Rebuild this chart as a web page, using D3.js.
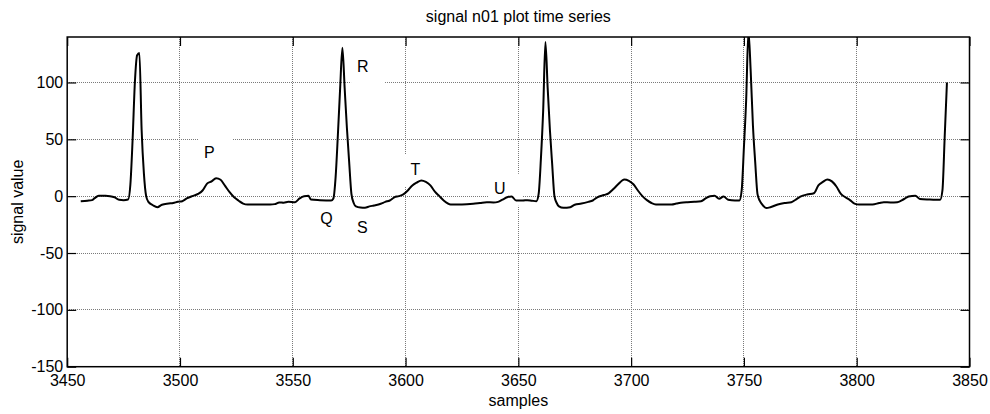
<!DOCTYPE html>
<html>
<head>
<meta charset="utf-8">
<script src="https://cdn.jsdelivr.net/npm/d3@7"></script>
<style>
    body { margin: 0; background: #fff; }
    #chart-area { width: 990px; height: 414px; }
    text { font-family: Arial, "Liberation Sans", sans-serif; }
</style>
</head>
<body>
<div id="chart-area"></div>
<script>

// sample index (x) and signal value (y)
let samples = [
    3456, 3459, 3461, 3462, 3464, 3467, 3469, 3471, 3473, 3475, 3477, 3478, 3479, 3480, 3481, 3482, 3483, 3484, 3485,
    3486, 3488, 3490, 3492, 3495, 3497, 3499, 3501, 3503, 3505, 3508, 3510, 3512, 3514, 3516, 3518, 3520, 3522, 3524,
    3526, 3528, 3530, 3535, 3540, 3542, 3544, 3546, 3548, 3551, 3553, 3555, 3557, 3558, 3562, 3567, 3568, 3569, 3570,
    3571, 3572, 3573, 3574, 3575, 3576, 3577, 3578, 3580, 3582, 3584, 3586, 3589, 3591, 3593, 3595, 3597, 3599, 3601,
    3603, 3605, 3607, 3609, 3611, 3613, 3615, 3617, 3620, 3625, 3630, 3633, 3636, 3639, 3641, 3643, 3645, 3647, 3649,
    3652, 3654, 3656, 3658, 3659, 3660, 3661, 3662, 3663, 3664, 3665, 3666, 3667, 3668, 3670, 3673, 3675, 3678, 3681,
    3683, 3685, 3688, 3690, 3692, 3694, 3697, 3699, 3701, 3703, 3705, 3707, 3709, 3711, 3715, 3718, 3720, 3722, 3725,
    3728, 3731, 3733, 3735, 3737, 3739, 3741, 3743, 3746, 3748, 3749, 3750, 3751, 3752, 3753, 3754, 3755, 3756, 3757,
    3758, 3760, 3762, 3765, 3768, 3771, 3773, 3775, 3778, 3781, 3783, 3785, 3787, 3789, 3791, 3793, 3795, 3797, 3799,
    3801, 3805, 3807, 3810, 3812, 3815, 3818, 3821, 3823, 3826, 3828, 3832, 3835, 3837, 3838, 3839, 3840
];

let values = [
    -4.5, -4, -3.5, -2, 0.3, 0.3, 0, -1, -3.2, -3.5, -3, 10, 50, 100, 124, 126, 58, 20, 0,
    -5, -8, -9.7, -7.5, -6.5, -6, -5, -4.4, -2, -0.3, 2, 5, 11, 13, 15.8, 14.4, 9, 3.5, -1,
    -4, -6.5, -7.3, -7.3, -7.3, -7, -5.5, -5.8, -5, -5.3, -2, 0, 0.3, -3, -3.5, -3.8, -2, 17, 54,
    95, 130.5, 95, 60, 30, 2, -6, -9, -10, -10.2, -9, -8.2, -6.7, -5, -3.8, -1, 0, 1.5, 5,
    9.4, 12, 13.8, 12.5, 9.5, 4, 0, -4, -7.3, -7.3, -6.7, -6, -5.3, -5.5, -5, -3, -1, -0.3, -3.8,
    -3.8, -3.5, -4, -4.4, 2, 33, 75, 135.5, 95, 58, 28, 0, -6, -9, -10.2, -9.7, -7.5, -6.5, -5,
    -3.8, -1, 1, 2.5, 6, 10, 14.7, 13.5, 10.5, 5, 0, -3.5, -6, -7.3, -7.3, -7.3, -6.5, -5.8, -5.3,
    -5, -4.4, -2, 0, 0.3, -2.3, -0.3, -3.2, -3.8, -3.8, 5, 43, 85, 145, 110, 62, 30, 2, -4,
    -7, -10.5, -9.5, -7.3, -6, -5.3, -3, -0.5, 1.5, 2.6, 9.4, 12.5, 14.7, 13, 8.5, 2, -1, -3.5, -6.5,
    -7.3, -7.3, -7.3, -6, -5.3, -5.5, -5.3, -2.5, -0.3, 0.3, -2.5, -3, -3.2, -3.2, 5, 52, 100
];

// wave annotations: letter and where it sits (sample, value)
let waveLabels = ["P", "Q", "R", "S", "T", "U"];
let labelSamples = [3510.7, 3562.2, 3578.5, 3578.5, 3602.2, 3639.2];
let labelValues = [34, -24.5, 109, -32.2, 19, 2.1];

let xTicks = [3450, 3500, 3550, 3600, 3650, 3700, 3750, 3800, 3850];
let yTicks = [-150, -100, -50, 0, 50, 100];

class SignalPlot {

    constructor(parentElement) {
        this.parentElement = parentElement;
        this.initVis();
    }

    initVis() {
        let vis = this;

        vis.margin = { top: 37, right: 20.5, bottom: 47.3, left: 67.2 };
        vis.width = 990 - vis.margin.left - vis.margin.right;
        vis.height = 414 - vis.margin.top - vis.margin.bottom;

        vis.root = d3.select("#" + vis.parentElement).append("svg")
            .attr("width", 990)
            .attr("height", 414);

        vis.svg = vis.root.append("g")
            .attr("transform", `translate(${vis.margin.left}, ${vis.margin.top})`);

        vis.x = d3.scaleLinear().domain([3450, 3850]).range([0, vis.width]);
        vis.y = d3.scaleLinear().domain([-150, 140]).range([vis.height, 0]);

        // clip so the tallest R peak gets cut at the top edge
        vis.root.append("defs").append("clipPath")
            .attr("id", "plot-clip")
            .append("rect")
            .attr("width", vis.width)
            .attr("height", vis.height);

        // grid
        vis.svg.append("g")
            .attr("class", "grid")
            .selectAll("line.vgrid")
            .data(xTicks.slice(1, -1))
            .enter().append("line")
            .attr("x1", d => vis.x(d)).attr("x2", d => vis.x(d))
            .attr("y1", 0).attr("y2", vis.height);

        vis.svg.select(".grid")
            .selectAll("line.hgrid")
            .data(yTicks.slice(1))
            .enter().append("line")
            .attr("x1", 0).attr("x2", vis.width)
            .attr("y1", d => vis.y(d)).attr("y2", d => vis.y(d));

        vis.svg.selectAll(".grid line")
            .attr("stroke", "#7a7a7a")
            .attr("stroke-width", 1)
            .attr("stroke-dasharray", "1,1")
            .attr("shape-rendering", "crispEdges");

        vis.labelData = waveLabels.map((l, i) => ({ label: l, s: labelSamples[i], v: labelValues[i] }));

        // white boxes behind the annotations (they hide the grid there)
        vis.svg.selectAll(".label-bg")
            .data(vis.labelData)
            .enter().append("rect")
            .attr("class", "label-bg")
            .attr("x", d => vis.x(d.s) - 6)
            .attr("y", d => vis.y(d.v) - 20)
            .attr("width", 34)
            .attr("height", 32)
            .attr("fill", "#fff");

        // signal
        vis.line = d3.line()
            .x(d => vis.x(d[0]))
            .y(d => vis.y(d[1]))
            .curve(d3.curveMonotoneX);

        vis.svg.append("path")
            .datum(samples.map((s, i) => [s, values[i]]))
            .attr("clip-path", "url(#plot-clip)")
            .attr("fill", "none")
            .attr("stroke", "#000")
            .attr("stroke-width", 2)
            .attr("stroke-linejoin", "round")
            .attr("d", vis.line);

        vis.svg.selectAll(".wave-label")
            .data(vis.labelData)
            .enter().append("text")
            .attr("class", "wave-label")
            .attr("x", d => vis.x(d.s))
            .attr("y", d => vis.y(d.v))
            .attr("font-size", "16px")
            .text(d => d.label);

        // axes, ticks point inward on all four sides
        let tick = 9;
        let plain = d => String(d).replace("\u2212", "-");
        vis.xAxis = d3.axisBottom(vis.x).tickValues(xTicks).tickFormat(plain)
            .tickSizeInner(-tick).tickSizeOuter(0).tickPadding(8);
        vis.yAxis = d3.axisLeft(vis.y).tickValues(yTicks).tickFormat(plain)
            .tickSizeInner(-tick).tickSizeOuter(0).tickPadding(4);

        vis.svg.append("g")
            .attr("class", "axis")
            .attr("transform", `translate(0, ${vis.height})`)
            .call(vis.xAxis);

        vis.svg.append("g")
            .attr("class", "axis")
            .call(vis.yAxis);

        vis.svg.append("g")
            .attr("class", "axis no-text")
            .call(d3.axisTop(vis.x).tickValues(xTicks).tickSizeInner(-tick).tickSizeOuter(0));

        vis.svg.append("g")
            .attr("class", "axis no-text")
            .attr("transform", `translate(${vis.width}, 0)`)
            .call(d3.axisRight(vis.y).tickValues(yTicks).tickSizeInner(-tick).tickSizeOuter(0));

        vis.svg.selectAll(".no-text text").remove();
        vis.svg.selectAll(".axis .domain").remove();
        vis.svg.selectAll(".axis line").attr("stroke", "#000").attr("stroke-width", 1.2);
        vis.svg.selectAll(".axis text")
            .attr("font-size", "16px")
            .attr("font-family", "Arial, 'Liberation Sans', sans-serif")
            .attr("fill", "#000");

        // frame
        vis.svg.append("rect")
            .attr("width", vis.width)
            .attr("height", vis.height)
            .attr("fill", "none")
            .attr("stroke", "#000")
            .attr("stroke-width", 1.5);

        // titles
        vis.root.append("text")
            .attr("x", vis.margin.left + vis.width / 2)
            .attr("y", 22)
            .attr("text-anchor", "middle")
            .attr("font-size", "16px")
            .text("signal n01 plot time series");

        vis.root.append("text")
            .attr("x", vis.margin.left + vis.width / 2)
            .attr("y", 406)
            .attr("text-anchor", "middle")
            .attr("font-size", "16px")
            .text("samples");

        vis.root.append("text")
            .attr("transform", `translate(23, ${vis.margin.top + vis.height / 2}) rotate(-90)`)
            .attr("text-anchor", "middle")
            .attr("font-size", "16px")
            .text("signal value");
    }
}

new SignalPlot("chart-area");

</script>
</body>
</html>
